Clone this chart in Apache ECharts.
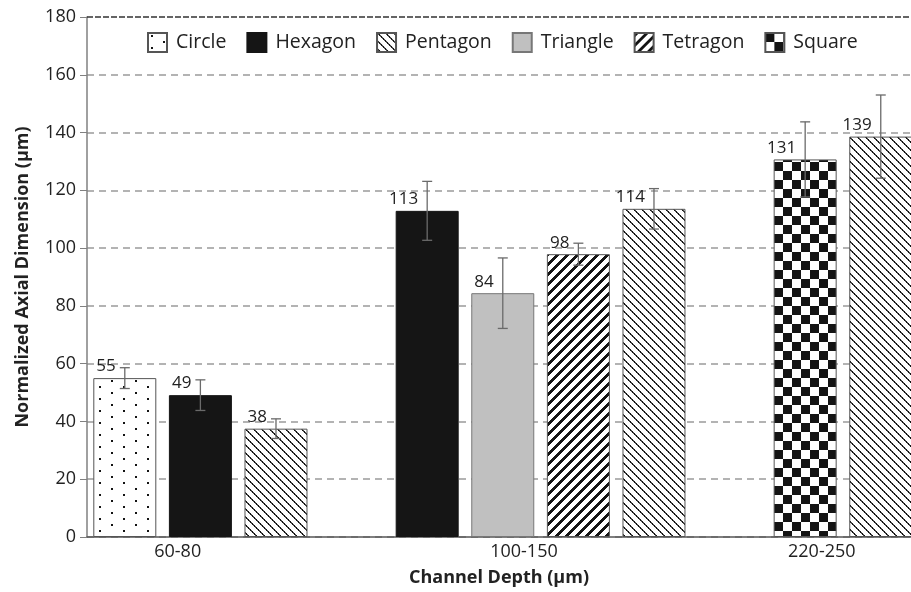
<!DOCTYPE html>
<html>
<head>
<meta charset="utf-8">
<script src="https://cdn.jsdelivr.net/npm/echarts@6/dist/echarts.min.js"></script>
<style>
  html, body { margin: 0; background: #fff; }
  #chart { width: 911px; height: 592px; }
</style>
</head>
<body>
<div id="chart"></div>
<script>
const categories = ['60-80', '100-150', '220-250'];
const shapes = ['Circle', 'Hexagon', 'Pentagon', 'Triangle', 'Tetragon', 'Square'];

// mean axial dimension per channel depth (null = not made at that depth)
const circleVals   = [55.0, null, null];
const hexagonVals  = [49.1, 112.9, null];
const pentagonVals = [37.5, 113.6, 138.6];
const triangleVals = [null, 84.4, null];
const tetragonVals = [null, 97.9, null];
const squareVals   = [null, null, 130.7];

// error bar half heights
const circleErr   = [3.6, null, null];
const hexagonErr  = [5.3, 10.2, null];
const pentagonErr = [3.4, 7.0, 14.4];
const triangleErr = [null, 12.2, null];
const tetragonErr = [null, 3.8, null];
const squareErr   = [null, null, 13.0];

// bar order inside each depth group
const groupOrder = [
  ['Circle', 'Hexagon', 'Pentagon'],
  ['Hexagon', 'Triangle', 'Tetragon', 'Pentagon'],
  ['Square', 'Pentagon']
];

// layout (slot units on the x axis)
const groupStart = [0, 4, 9];
const labelPos = [1.2, 5.78, 9.72];

const valMap = {
  Circle: circleVals, Hexagon: hexagonVals, Pentagon: pentagonVals,
  Triangle: triangleVals, Tetragon: tetragonVals, Square: squareVals
};
const errMap = {
  Circle: circleErr, Hexagon: hexagonErr, Pentagon: pentagonErr,
  Triangle: triangleErr, Tetragon: tetragonErr, Square: squareErr
};

const font = "'Open Sans', sans-serif";

function slotX(ci, name) {
  return groupStart[ci] + groupOrder[ci].indexOf(name) + 0.5;
}

// pixel pattern tiles
function tile(w, h, dark) {
  const c = document.createElement('canvas');
  c.width = w; c.height = h;
  const ctx = c.getContext('2d');
  const img = ctx.createImageData(w, h);
  for (let y = 0; y < h; y++) {
    for (let x = 0; x < w; x++) {
      const v = dark(x, y);
      const i = (y * w + x) * 4;
      const g = v === true ? 20 : (v === false ? 255 : v);
      img.data[i] = g; img.data[i + 1] = g; img.data[i + 2] = g; img.data[i + 3] = 255;
    }
  }
  ctx.putImageData(img, 0, 0);
  return { image: c, repeat: 'repeat' };
}

const patterns = {
  Circle: tile(24, 12, (x, y) => (x >= 3 && x < 5 && y >= 2 && y < 4) || (x >= 15 && x < 17 && y >= 8 && y < 10)),
  Hexagon: '#151515',
  Pentagon: tile(8, 8, (x, y) => {
    const k = (((x - y) % 8) + 8) % 8;
    return k < 2 ? (x % 2 === 0 ? 20 : 70) : false;
  }),
  Triangle: '#c0c0c0',
  Tetragon: tile(10, 10, (x, y) => (x + y) % 10 < 4),
  Square: tile(18, 18, (x, y) => ((x < 9) === (y < 9)))
};

const borders = {
  Circle: '#555', Hexagon: '#151515', Pentagon: '#555',
  Triangle: '#777', Tetragon: '#555', Square: '#555'
};

const barSeries = shapes.map(name => ({
  name: name,
  type: 'bar',
  barWidth: 63,
  barGap: '-100%',
  itemStyle: { color: patterns[name], borderColor: borders[name], borderWidth: 1 },
  label: {
    show: true,
    position: 'top',
    distance: 3,
    align: 'right',
    offset: [-9, 0],
    fontFamily: font,
    fontSize: 17,
    color: '#222',
    formatter: p => Math.round(p.value[1])
  },
  data: categories
    .map((c, i) => valMap[name][i] == null ? null : [slotX(i, name), valMap[name][i]])
    .filter(d => d)
}));

// top dashed border line
barSeries[0].markLine = {
  silent: true,
  symbol: 'none',
  label: { show: false },
  lineStyle: { color: '#333', type: [6, 2], width: 1.5 },
  data: [{ yAxis: 180 }]
};

const errData = [];
shapes.forEach(name => {
  categories.forEach((c, i) => {
    const v = valMap[name][i], e = errMap[name][i];
    if (v != null && e != null) errData.push([slotX(i, name), v - e, v + e]);
  });
});

const errSeries = {
  type: 'custom',
  name: 'error',
  z: 5,
  silent: true,
  encode: { x: 0, y: [1, 2] },
  renderItem: (params, api) => {
    const x = api.value(0);
    const lo = api.coord([x, api.value(1)]);
    const hi = api.coord([x, api.value(2)]);
    const cap = 5;
    const st = { stroke: '#6a6a6a', lineWidth: 1.3 };
    return {
      type: 'group',
      children: [
        { type: 'line', shape: { x1: hi[0], y1: hi[1], x2: lo[0], y2: lo[1] }, style: st },
        { type: 'line', shape: { x1: hi[0] - cap, y1: hi[1], x2: hi[0] + cap, y2: hi[1] }, style: st },
        { type: 'line', shape: { x1: lo[0] - cap, y1: lo[1], x2: lo[0] + cap, y2: lo[1] }, style: st }
      ]
    };
  },
  data: errData
};

const chart = echarts.init(document.getElementById('chart'));
chart.setOption({
  animation: false,
  textStyle: { fontFamily: font },
  legend: {
    data: shapes,
    left: 147,
    top: 32,
    padding: 0,
    itemWidth: 19,
    itemHeight: 19,
    itemGap: 20,
    icon: 'rect',
    textStyle: { fontFamily: font, fontSize: 19.5, color: '#222', padding: [0, 0, 0, 4] }
  },
  grid: { left: 87, right: 0, top: 17, bottom: 55, containLabel: false },
  xAxis: {
    type: 'value',
    min: 0,
    max: 10.9,
    name: 'Channel Depth (µm)',
    nameLocation: 'middle',
    nameGap: 32,
    nameTextStyle: { fontFamily: font, fontSize: 18, fontWeight: 'bold', color: '#222' },
    axisLine: { show: true, lineStyle: { color: '#555', width: 1.5 } },
    axisTick: { show: false },
    splitLine: { show: false },
    axisLabel: {
      customValues: labelPos,
      margin: 6,
      fontFamily: font,
      fontSize: 18,
      color: '#222',
      formatter: v => {
        const i = labelPos.findIndex(p => Math.abs(p - v) < 1e-6);
        return i >= 0 ? categories[i] : '';
      }
    }
  },
  yAxis: {
    type: 'value',
    min: 0,
    max: 180,
    interval: 20,
    name: 'Normalized Axial Dimension (µm)',
    nameLocation: 'middle',
    nameGap: 55,
    nameTextStyle: { fontFamily: font, fontSize: 18, fontWeight: 'bold', color: '#222' },
    axisLine: { show: true, lineStyle: { color: '#808080', width: 1.5 } },
    axisTick: { show: true, length: 7, lineStyle: { color: '#808080' } },
    axisLabel: { margin: 11, fontFamily: font, fontSize: 18, color: '#222' },
    splitLine: {
      show: true,
      showMaxLine: false,
      lineStyle: { color: '#9a9a9a', type: [7, 5], width: 1.5 }
    }
  },
  series: barSeries.concat([errSeries])
});
</script>
</body>
</html>
